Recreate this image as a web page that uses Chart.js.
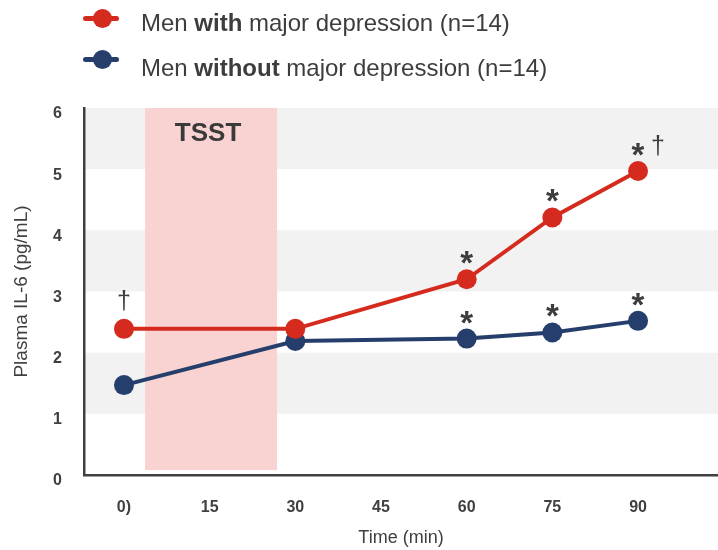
<!DOCTYPE html>
<html>
<head>
<meta charset="utf-8">
<title>Plasma IL-6 during the TSST</title>
<script src="https://cdn.jsdelivr.net/npm/chart.js@4.4.1/dist/chart.umd.min.js"></script>
<style>
  html, body { margin: 0; padding: 0; background: #ffffff; }
  #wrap { position: relative; width: 718px; height: 550px; overflow: hidden;
          font-family: "Liberation Sans", Arial, sans-serif; color: #3d3d3d; }
  #chart { position: absolute; left: 0; top: 0; }
  .key-line { position: absolute; left: 83px; width: 36px; height: 5px; border-radius: 2.5px; }
  .key-dot { position: absolute; left: 92.5px; width: 19px; height: 19px; border-radius: 50%; }
  .key-text { position: absolute; left: 141px; font-size: 24px; line-height: 24px; white-space: nowrap; }
</style>
</head>
<body>
<div id="wrap">
  <canvas id="chart" width="718" height="550"></canvas>
  <div class="key-line" style="top:15.5px;background:#d52b1e"></div>
  <div class="key-dot" style="top:8.5px;background:#d52b1e"></div>
  <div class="key-text" style="top:11px">Men <b>with</b> major depression (n=14)</div>
  <div class="key-line" style="top:56.5px;background:#253e6b"></div>
  <div class="key-dot" style="top:49.5px;background:#253e6b"></div>
  <div class="key-text" style="top:56px">Men <b>without</b> major depression (n=14)</div>
</div>
<script>
// Sampling times (min) and mean plasma IL-6 (pg/mL) for each group
const timePoints = [0, 30, 60, 75, 90];
const withDepression = [2.39, 2.39, 3.20, 4.21, 4.97];
const withoutDepression = [1.47, 2.19, 2.23, 2.33, 2.52];

// Significance marks above each point
const withMarks = ["†", "", "*", "*", "*†"];
const withoutMarks = ["", "", "*", "*", "*"];

// Axis ticks
const tickTimes = [0, 15, 30, 45, 60, 75, 90];
const tickLabels = ["0)", "15", "30", "45", "60", "75", "90"];
const yTicks = [0, 1, 2, 3, 4, 5, 6];

// Background bands (pg/mL) and the stress-test window (min)
const shadedBands = [[1, 2], [3, 4], [5, 6]];
const tsstWindow = [3.7, 26.8];

const RED = '#d52b1e';
const BLUE = '#253e6b';
const INK = '#404040';
const FONT = '"Liberation Sans", Arial, sans-serif';

const backdrop = {
  id: 'backdrop',
  beforeDraw(chart) {
    const { ctx, chartArea: { left, right }, scales: { x, y } } = chart;
    ctx.save();
    ctx.fillStyle = '#f2f2f2';
    shadedBands.forEach(([lo, hi]) => {
      const top = y.getPixelForValue(hi);
      const bottom = y.getPixelForValue(lo);
      ctx.fillRect(left, top, right - left, bottom - top);
    });
    const x0 = x.getPixelForValue(tsstWindow[0]);
    const x1 = x.getPixelForValue(tsstWindow[1]);
    const yTop = y.getPixelForValue(6);
    const yBottom = y.getPixelForValue(0.08);
    ctx.fillStyle = '#f8d3d1';
    ctx.fillRect(x0, yTop, x1 - x0, yBottom - yTop);
    ctx.fillStyle = '#3a3a3a';
    ctx.font = 'bold 26px ' + FONT;
    ctx.textAlign = 'center';
    ctx.textBaseline = 'alphabetic';
    ctx.fillText('TSST', (x0 + x1) / 2 - 3, yTop + 33);
    ctx.restore();
  }
};

const marks = {
  id: 'marks',
  afterDatasetsDraw(chart) {
    const { ctx } = chart;
    const sets = [withMarks, withoutMarks];
    ctx.save();
    ctx.fillStyle = '#3d3d3d';
    ctx.textAlign = 'center';
    ctx.textBaseline = 'alphabetic';
    sets.forEach((list, di) => {
      const meta = chart.getDatasetMeta(di);
      list.forEach((m, i) => {
        if (!m) return;
        const pt = meta.data[i];
        const hasStar = m.includes('*');
        if (hasStar) {
          ctx.font = 'bold 33px ' + FONT;
          ctx.fillText('*', pt.x, pt.y - 5);
        }
        if (m.includes('†')) {
          ctx.font = '25px ' + FONT;
          ctx.fillText('†', hasStar ? pt.x + 20 : pt.x, pt.y - (hasStar ? 17 : 20));
        }
      });
    });
    ctx.restore();
  }
};

const toPoints = (vals) => timePoints.map((t, i) => ({ x: t, y: vals[i] }));

new Chart(document.getElementById('chart'), {
  type: 'line',
  data: {
    datasets: [
      {
        label: 'Men with major depression (n=14)',
        data: toPoints(withDepression),
        borderColor: RED, backgroundColor: RED,
        pointBackgroundColor: RED, pointBorderColor: RED,
        borderWidth: 4, pointRadius: 10, pointBorderWidth: 0, tension: 0
      },
      {
        label: 'Men without major depression (n=14)',
        data: toPoints(withoutDepression),
        borderColor: BLUE, backgroundColor: BLUE,
        pointBackgroundColor: BLUE, pointBorderColor: BLUE,
        borderWidth: 4, pointRadius: 10, pointBorderWidth: 0, tension: 0
      }
    ]
  },
  options: {
    responsive: false,
    animation: false,
    devicePixelRatio: 1,
    clip: false,
    layout: { autoPadding: false, padding: { top: 108, left: 0, right: 0, bottom: 0 } },
    plugins: { legend: { display: false }, tooltip: { enabled: false } },
    scales: {
      x: {
        type: 'linear', min: -7, max: 104,
        afterBuildTicks(s) { s.ticks = tickTimes.map(v => ({ value: v })); },
        ticks: {
          autoSkip: false, maxRotation: 0, padding: 15, color: INK,
          font: { family: FONT, size: 16, weight: 'bold' },
          callback: (v) => tickLabels[tickTimes.indexOf(v)]
        },
        grid: { display: false },
        border: { display: true, color: INK, width: 2.5 },
        title: {
          display: true, text: 'Time (min)', color: INK,
          font: { family: FONT, size: 18 }, padding: { top: 0, bottom: 1 }
        },
        afterFit(s) { s.height = 75; }
      },
      y: {
        min: 0, max: 6,
        afterBuildTicks(s) { s.ticks = yTicks.map(v => ({ value: v })); },
        ticks: {
          padding: 14, labelOffset: 6, color: INK,
          font: { family: FONT, size: 16, weight: 'bold' }
        },
        grid: { display: false },
        border: { display: true, color: INK, width: 2.5 },
        title: {
          display: true, text: 'Plasma IL-6 (pg/mL)', color: INK,
          font: { family: FONT, size: 19 }, padding: { top: 10, bottom: 0 }
        },
        afterFit(s) { s.width = 84; }
      }
    }
  },
  plugins: [backdrop, marks]
});
</script>
</body>
</html>
